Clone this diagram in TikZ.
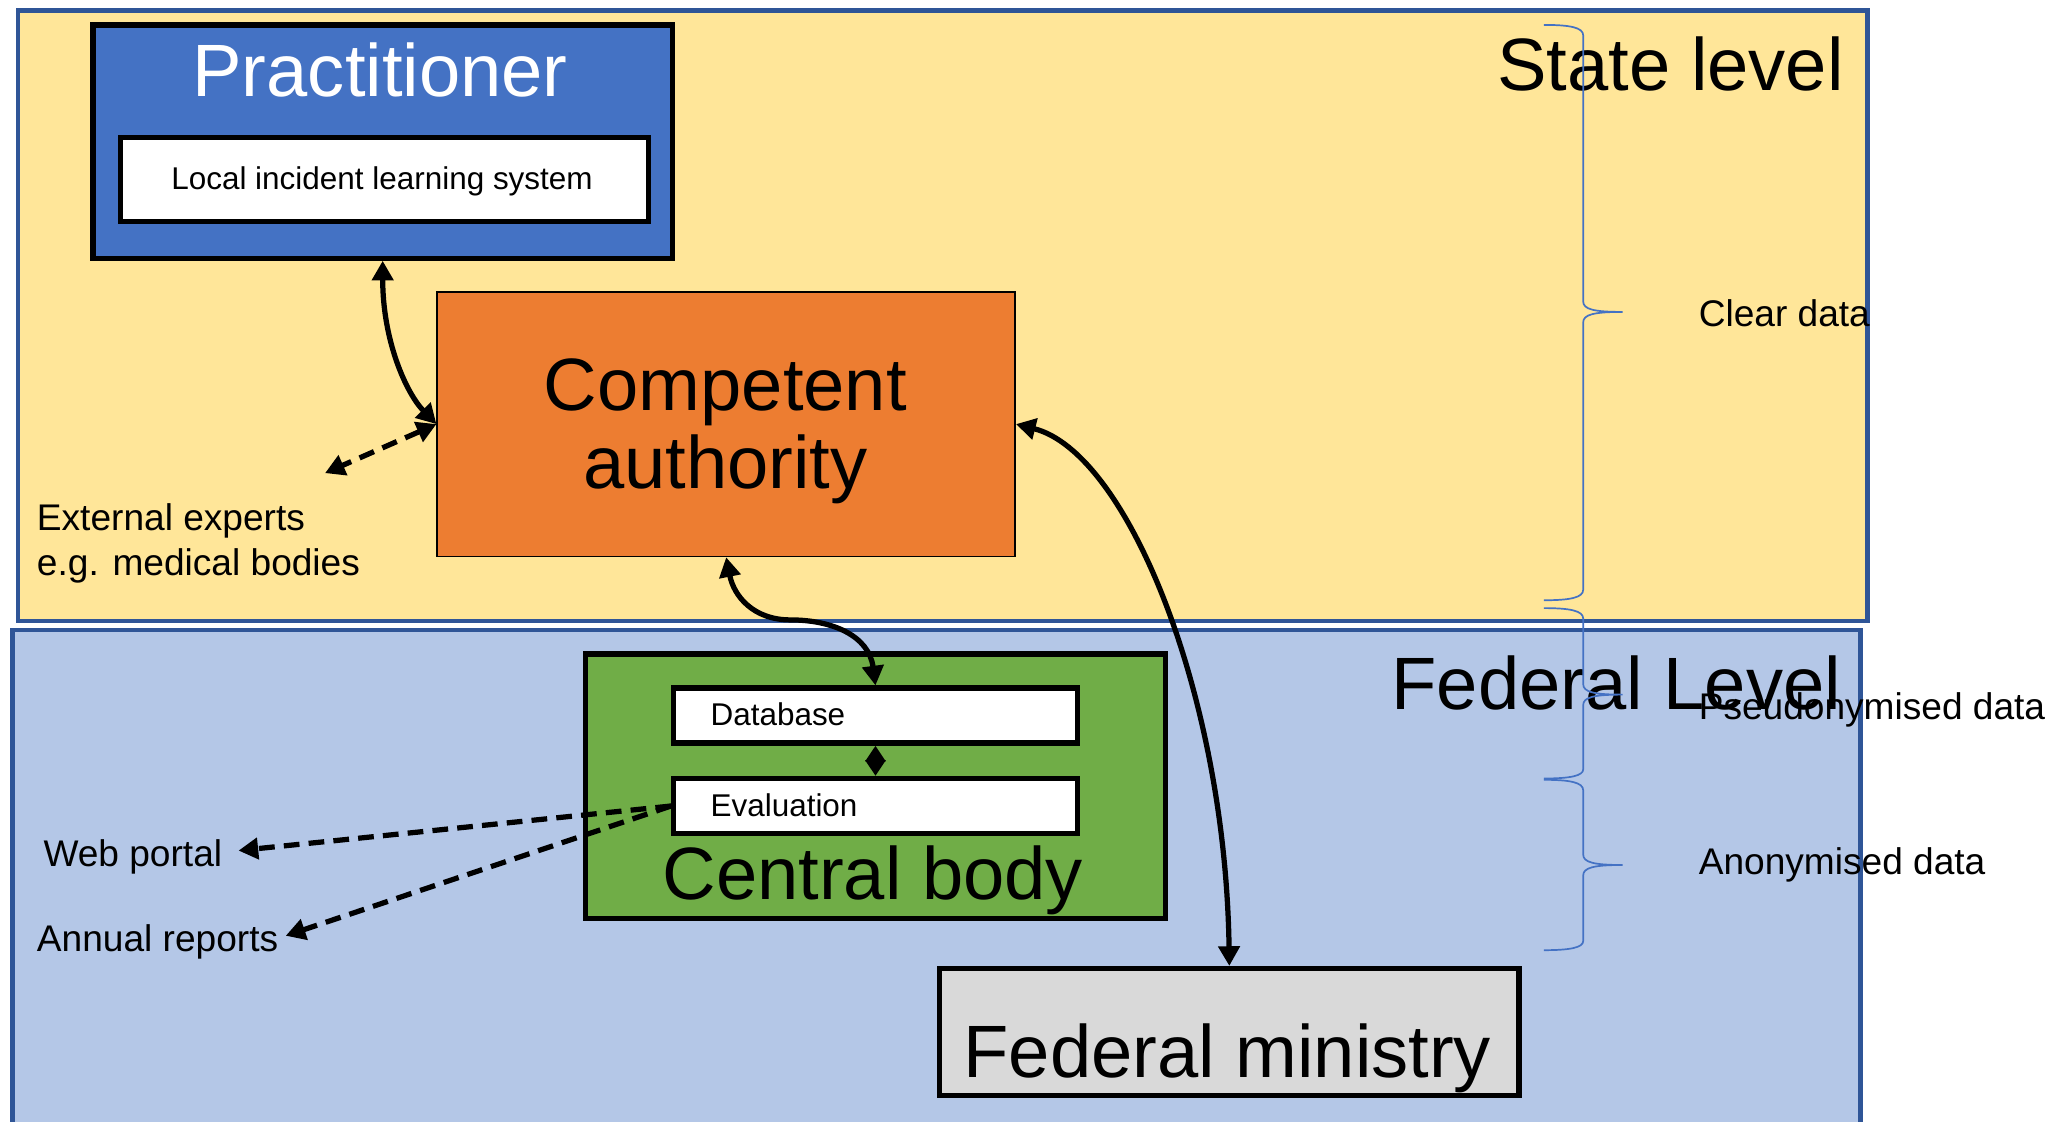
\documentclass[tikz,border=0pt]{standalone}
\usepackage{fontspec}
\setmainfont{Liberation Sans}
\usetikzlibrary{arrows.meta}

\definecolor{statefill}{HTML}{FFE699}
\definecolor{fedfill}{HTML}{B4C7E7}
\definecolor{lvlline}{HTML}{2F5597}
\definecolor{pracblue}{HTML}{4472C4}
\definecolor{caorange}{HTML}{ED7D31}
\definecolor{cbgreen}{HTML}{70AD47}
\definecolor{mingrey}{HTML}{D9D9D9}
\definecolor{bracecol}{HTML}{4472C4}

\newcommand{\fbig}{\fontsize{56.6}{60}\selectfont}
\newcommand{\fmid}{\fontsize{28.3}{34}\selectfont}
\newcommand{\fsmall}{\fontsize{24}{28}\selectfont}

\begin{document}
\begin{tikzpicture}[x=1pt,y=-1pt,
  >={Triangle[length=15pt,width=16pt]},
  levelbox/.style={draw=lvlline, line width=3.6pt, inner sep=0pt, anchor=north west},
  unitbox/.style={draw=black, line width=4pt, inner sep=0pt, anchor=north west},
  lbl/.style={inner sep=0pt, anchor=base},
  lblw/.style={inner sep=0pt, anchor=base west},
  lble/.style={inner sep=0pt, anchor=base east},
  link/.style={line width=4pt, <->},
  dlink/.style={line width=4pt, dash pattern=on 12pt off 7pt},
  bracepath/.style={draw=bracecol, line width=1.3pt}
]
\useasboundingbox (0,0) rectangle (1568,856);
\clip (0,0) rectangle (1568,856);

% level areas
\node[levelbox, fill=statefill, minimum width=1411pt, minimum height=466pt] (state) at (12,6) {};
\node[levelbox, fill=fedfill, minimum width=1410pt, minimum height=420pt] (fed) at (8,479) {};

% organisations
\node[unitbox, fill=pracblue, minimum width=442pt, minimum height=178pt] (prac) at (69,17) {};
\node[unitbox, fill=white, minimum width=403pt, minimum height=64pt] (lils) at (90,103) {};
\node[unitbox, line width=1.2pt, fill=caorange, minimum width=441pt, minimum height=202pt] (ca) at (333,222) {};
\node[unitbox, fill=cbgreen, minimum width=442pt, minimum height=202pt] (cb) at (445,497) {};
\node[unitbox, fill=white, minimum width=308pt, minimum height=42pt] (db) at (512,523) {};
\node[unitbox, fill=white, minimum width=308pt, minimum height=42pt] (ev) at (512,592) {};
\node[unitbox, fill=mingrey, minimum width=442pt, minimum height=97pt] (fm) at (715,737) {};

% labels
\node[lbl, text=white, font=\fbig] (pracT) at (290,73.5) {Practitioner};
\node[lbl, font=\fsmall] (lilsT) at (291.5,144.4) {Local incident learning system};
\node[lbl, font=\fbig] (caT1) at (553.5,313) {Competent};
\node[lbl, font=\fbig] (caT2) at (553.5,373) {authority};
\node[lbl, font=\fbig] (cbT) at (666,686) {Central body};
\node[lblw, font=\fsmall] (dbT) at (542,553.5) {Database};
\node[lblw, font=\fsmall] (evT) at (542,623) {Evaluation};
\node[lbl, font=\fbig] (fmT) at (936.5,822) {Federal ministry};
\node[lble, font=\fbig] (stT) at (1407,69) {State level};
\node[lble, font=\fbig] (fdT) at (1405,541.5) {Federal Level};

\node[lblw, font=\fmid] (ext1) at (28,405) {External experts};
\node[lblw, font=\fmid] (ext2) at (28,439) {e.g. medical bodies};
\node[lblw, font=\fmid] (web) at (33,661) {Web portal};
\node[lblw, font=\fmid] (rep) at (28,726) {Annual reports};

\node[lblw, font=\fmid] (clear) at (1296,249.4) {Clear data};
\node[lblw, font=\fmid] (pseudo) at (1296,549) {Pseudonymised data};
\node[lblw, font=\fmid] (anon) at (1296,667) {Anonymised data};

% free ends of the outward links
\coordinate (extTip) at (248,361);
\coordinate (webTip) at (182,649);
\coordinate (repTip) at (218,714);

% information flows
\draw[link] (prac.south) .. controls (292,260) and (310,300) .. (ca.west);
\draw[dlink, <->] (ca.west) -- (extTip);
\draw[link] (ca.south) .. controls (560,455) and (575,473) .. (603,473)
                       .. controls (635,473) and (663,485) .. (db.north);
\draw[link] (ca.east) .. controls (860,345) and (935,530) .. (fm.north);
\draw[link, {Triangle[length=12pt,width=15pt]}-{Triangle[length=12pt,width=15pt]}]
  (db.south) -- (ev.north);
\draw[dlink, ->] (ev.west) -- (webTip);
\draw[dlink, ->] (ev.west) -- (repTip);

% data-category braces
\draw[bracepath] (1178,19) .. controls (1198,19) and (1208,21) .. (1208,27)
  -- (1208,230) .. controls (1208,236) and (1216,238) .. (1238,238)
  .. controls (1216,238) and (1208,240) .. (1208,246)
  -- (1208,450) .. controls (1208,456) and (1198,458) .. (1178,458);
\draw[bracepath] (1178,464) .. controls (1198,464) and (1208,466) .. (1208,472)
  -- (1208,522) .. controls (1208,528) and (1216,530) .. (1238,530)
  .. controls (1216,530) and (1208,532) .. (1208,538)
  -- (1208,587) .. controls (1208,592) and (1198,594) .. (1178,594);
\draw[bracepath] (1178,595) .. controls (1198,595) and (1208,597) .. (1208,603)
  -- (1208,652) .. controls (1208,658) and (1216,660) .. (1238,660)
  .. controls (1216,660) and (1208,662) .. (1208,668)
  -- (1208,718) .. controls (1208,723) and (1198,725) .. (1178,725);
\end{tikzpicture}
\end{document}
